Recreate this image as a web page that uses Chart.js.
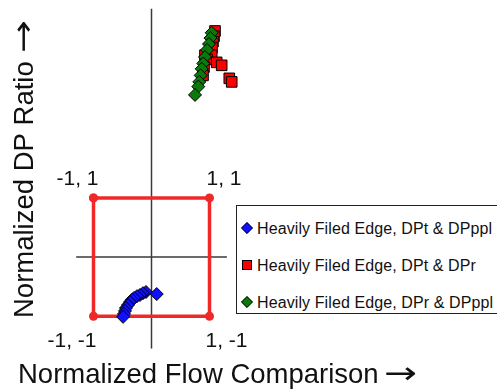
<!DOCTYPE html>
<html>
<head>
<meta charset="utf-8">
<script src="https://cdn.jsdelivr.net/npm/chart.js@4/dist/chart.umd.min.js"></script>
<style>
  html, body { margin: 0; padding: 0; background: #fff; }
  #wrap { position: relative; width: 497px; height: 389px; overflow: hidden; }
  #chart { position: absolute; left: 0; top: 0; }
  #legend {
    position: absolute; left: 236px; top: 205px; width: 270px; height: 109px;
    border: 1px solid #222; box-sizing: border-box; background: #fff;
    font-family: "Liberation Sans", Arial, sans-serif; font-size: 16px; color: #111;
    letter-spacing: 0.1px;
  }
  .item { position: absolute; left: 5px; height: 20px; line-height: 20px; white-space: nowrap; }
  .mk { display: inline-block; width: 10px; height: 10px; vertical-align: middle; margin-right: 5px; position: relative; top: -2px; box-sizing: border-box; border: 1px solid #000; }
  .mk.diamond { transform: rotate(45deg) scale(0.85); }
</style>
</head>
<body>
<div id="wrap">
  <canvas id="chart" width="497" height="389"></canvas>
  <div id="legend"></div>
</div>
<script>
// series data (normalized flow, normalized DP ratio)
const seriesNames = [
  'Heavily Filed Edge, DPt & DPppl',
  'Heavily Filed Edge, DPt & DPr',
  'Heavily Filed Edge, DPr & DPppl',
];
const seriesColors = ['#1010ff', '#ff0000', '#0a7a0a'];

const blueX = [-0.095, -0.147, -0.198, -0.25, -0.30, -0.336, -0.37, -0.405, -0.44, -0.457, -0.474, -0.49, 0.09];
const blueY = [-0.59, -0.61, -0.64, -0.66, -0.69, -0.72, -0.76, -0.81, -0.86, -0.91, -0.96, -1.01, -0.625];

const redX = [1.095, 1.078, 1.06, 1.043, 0.922, 1.038, 0.957, 1.124, 1.21, 1.341, 1.383, 0.905, 0.888];
const redY = [3.82, 3.73, 3.64, 3.54, 3.41, 3.41, 3.34, 3.29, 3.24, 3.02, 2.96, 3.21, 3.07];

const greenX = [1.038, 1.017, 0.991, 0.957, 0.922, 0.893, 0.866, 0.848, 0.824, 0.807, 0.75];
const greenY = [3.79, 3.70, 3.60, 3.50, 3.38, 3.27, 3.18, 3.07, 2.96, 2.88, 2.74];

// reference square and axis lines
const squareX = [-1, 1, 1, -1, -1];
const squareY = [1, 1, -1, -1, 1];
const cornerLabels = ['-1, 1', '1, 1', '1, -1', '-1, -1'];
const vAxisX = [0, 0];
const vAxisY = [-1.55, 4.2];
const hAxisX = [-1.3, 1.3];
const hAxisY = [0, 0];

const xTitle = 'Normalized Flow Comparison';
const yTitle = 'Normalized DP Ratio';
const arrow = '\u2192';

function zip(xs, ys) {
  return xs.map((x, i) => ({ x, y: ys[i] }));
}

// arrow drawn as a stretched glyph after a title, in the current transform
function drawArrow(ctx, x, baseline) {
  ctx.save();
  ctx.font = '30px "DejaVu Sans", sans-serif';
  ctx.textAlign = 'left';
  ctx.textBaseline = 'middle';
  const w = ctx.measureText(arrow).width;
  ctx.translate(x, baseline - 8);
  ctx.scale(33 / w, 1);
  ctx.fillText(arrow, 0, 0);
  ctx.restore();
}

const labelsPlugin = {
  id: 'labels',
  afterDraw(chart) {
    const { ctx, scales } = chart;
    const xs = scales.x;
    const ys = scales.y;
    ctx.save();
    ctx.fillStyle = '#111';
    ctx.font = '21px "Liberation Sans", Arial, sans-serif';
    ctx.textBaseline = 'alphabetic';
    // corner labels
    const px = (v) => xs.getPixelForValue(v);
    const py = (v) => ys.getPixelForValue(v);
    ctx.textAlign = 'right';
    ctx.fillText(cornerLabels[0], px(-1) + 5, py(1) - 13);
    ctx.fillText(cornerLabels[3], px(-1) + 3, py(-1) + 31);
    ctx.textAlign = 'left';
    ctx.fillText(cornerLabels[1], px(1) - 3, py(1) - 13);
    ctx.fillText(cornerLabels[2], px(1) - 4, py(-1) + 31);

    // axis titles
    ctx.font = '27.5px "Liberation Sans", Arial, sans-serif';
    ctx.textAlign = 'left';
    ctx.fillText(xTitle, 18, 383);
    const xw = ctx.measureText(xTitle).width;
    drawArrow(ctx, 18 + xw + 5, 383);

    ctx.translate(33, 318);
    ctx.rotate(-Math.PI / 2);
    ctx.fillText(yTitle, 0, 0);
    const yw = ctx.measureText(yTitle).width;
    drawArrow(ctx, yw + 8, 0);
    ctx.restore();
  },
};

const pointBase = { showLine: false, borderColor: '#000', pointBorderWidth: 1, clip: false };

new Chart(document.getElementById('chart'), {
  type: 'scatter',
  data: {
    datasets: [
      { ...pointBase, data: zip(blueX, blueY), backgroundColor: seriesColors[0], pointStyle: 'rectRot', pointRadius: 6.5 },
      { ...pointBase, data: zip(greenX, greenY), backgroundColor: seriesColors[2], pointStyle: 'rectRot', pointRadius: 6.5 },
      { ...pointBase, data: zip(redX, redY), backgroundColor: seriesColors[1], pointStyle: 'rect', pointRadius: 7.5 },
      {
        data: zip(squareX, squareY), showLine: true, borderColor: '#f02828', borderWidth: 3.5,
        backgroundColor: '#f02828', pointRadius: 4.5, pointBorderWidth: 0, clip: false,
      },
      { data: zip(vAxisX, vAxisY), showLine: true, borderColor: '#3a3a3a', borderWidth: 1.5, pointRadius: 0 },
      { data: zip(hAxisX, hAxisY), showLine: true, borderColor: '#3a3a3a', borderWidth: 1.5, pointRadius: 0 },
    ],
  },
  options: {
    responsive: false,
    animation: false,
    layout: { padding: { left: 76.1, right: 229.5, top: 2, bottom: 40.2 } },
    scales: {
      x: { type: 'linear', min: -1.3, max: 2.0, display: false },
      y: { type: 'linear', min: -1.55, max: 4.2, display: false },
    },
    plugins: {
      legend: { display: false },
      tooltip: { enabled: false },
    },
  },
  plugins: [labelsPlugin],
});

// legend
const legendTops = [13, 50, 87];
const legendShapes = ['diamond', 'square', 'diamond'];
document.getElementById('legend').innerHTML = seriesNames
  .map((name, i) => `
    <div class="item" style="top:${legendTops[i]}px">
      <span class="mk ${legendShapes[i]}" style="background:${seriesColors[i]}"></span>${name}
    </div>
  `)
  .join('');
</script>
</body>
</html>
